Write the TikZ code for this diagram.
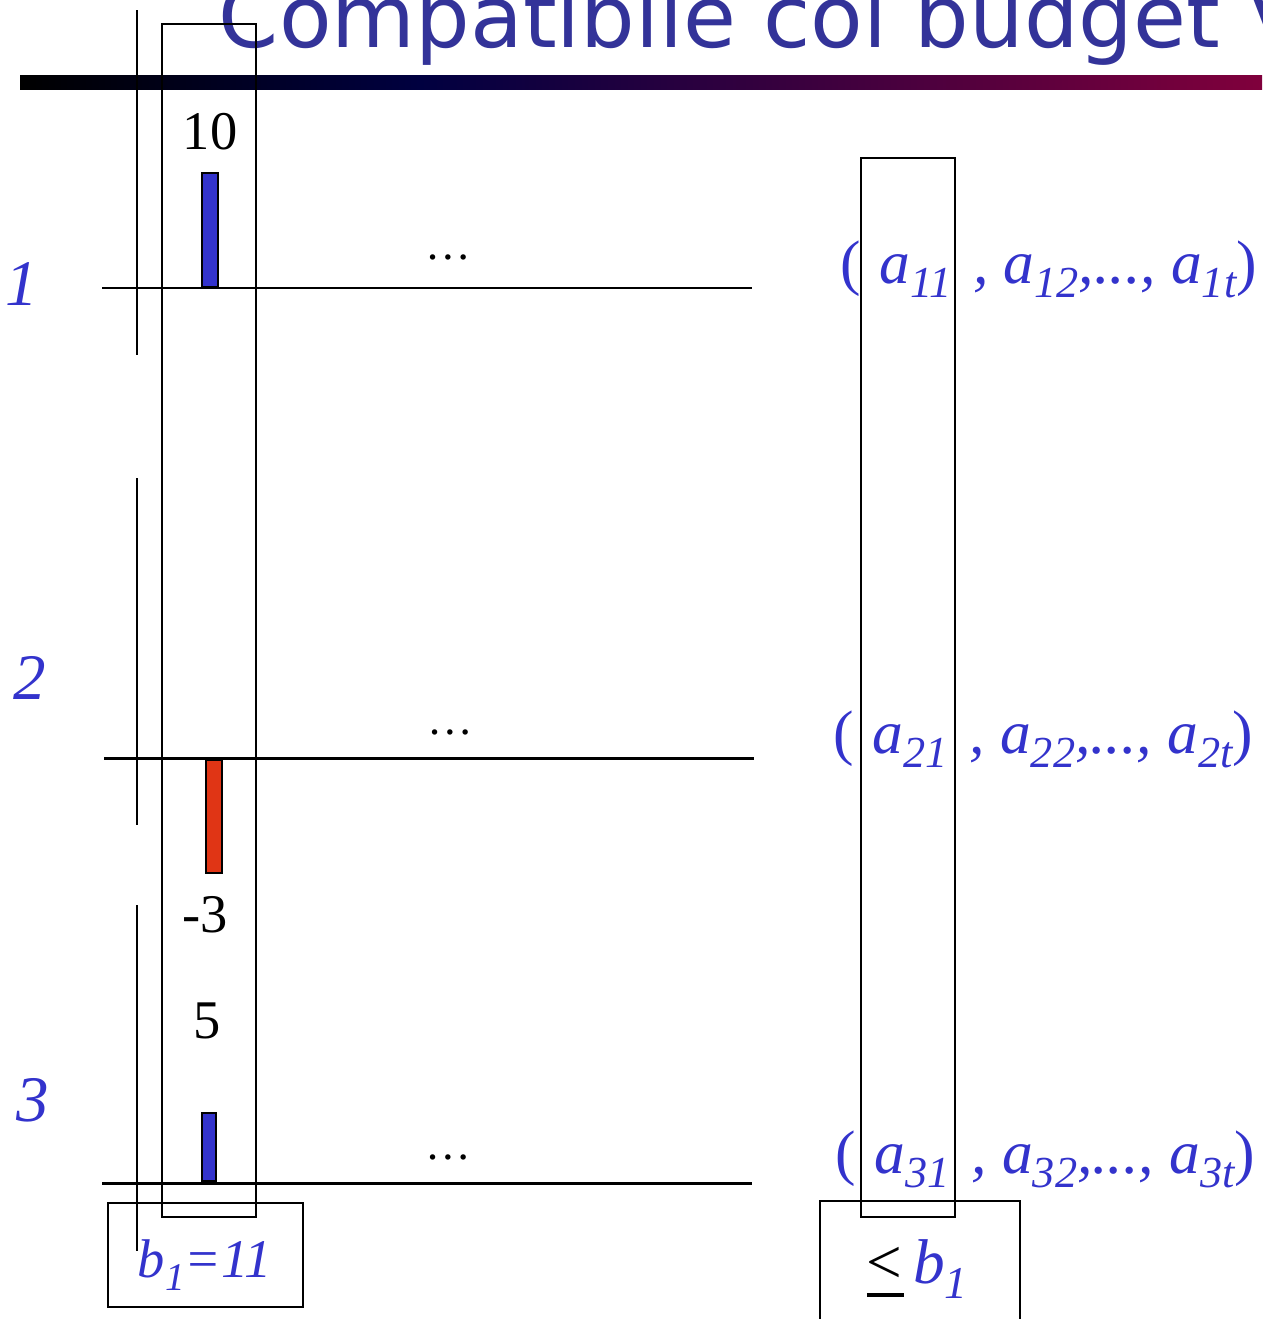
\documentclass[tikz,border=0pt]{standalone}
\usepackage{fontspec}
\setmainfont{Liberation Serif}
\newfontfamily\titlefont{DejaVu Sans}
\definecolor{txtblue}{HTML}{3333CC}
\definecolor{titleblue}{HTML}{333399}
\definecolor{barred}{HTML}{E03515}
\definecolor{navy}{HTML}{000040}
\definecolor{crimson}{HTML}{80003C}
\newcommand{\sbs}[1]{\raisebox{-0.24em}{\scalebox{0.72}{#1}}}
\newcommand{\fs}[1]{\fontsize{#1}{#1}\selectfont}
\newcommand{\tpl}[1]{\upshape(\hspace{0.3em}\itshape a\sbs{#11}\hspace{0.35em}, a\sbs{#12},..., a\sbs{#1t}\upshape)}
\begin{document}
\begin{tikzpicture}[x=0.02cm, y=-0.02cm, line width=1.1pt,
  numlbl/.style={anchor=base, inner sep=0, font=\fs{31pt}},
  rowlbl/.style={anchor=base, inner sep=0, text=txtblue, font=\fs{37pt}\itshape},
  tuple/.style={anchor=base west, inner sep=0, text=txtblue, font=\fs{35pt}},
  dots/.style={anchor=base, inner sep=0, font=\fs{26pt}},
  axis/.style={line width=1.7pt},
  bar/.style={draw=black, line width=1.1pt}]
\clip (0,0) rectangle (1262,1319);
% title and rule
\node[anchor=base west, inner sep=0, text=titleblue, font=\titlefont\fs{49pt}] (title) at (218,47) {Compatibile col budget V};
\shade[left color=black, right color=navy] (20,75) rectangle (420,89);
\shade[left color=navy, right color=crimson] (420,75) rectangle (1262,89);
% left axis pieces
\draw[axis] (137,10) -- (137,355);
\draw[axis] (137,478) -- (137,825);
\draw[axis] (137,905) -- (137,1251);
% row lines
\draw[axis] (102,288) -- (752,288);
\draw[axis] (104,758) -- (754,758);
\draw[axis] (102,1183) -- (752,1183);
% bars
\draw[bar, fill=txtblue] (202,173) rectangle (218,287);
\draw[bar, fill=barred] (206,760) rectangle (222,873);
\draw[bar, fill=txtblue] (202,1113) rectangle (216,1181);
% columns
\draw (162,24) rectangle (256,1217);
\draw (861,158) rectangle (955,1217);
\draw (108,1203) rectangle (303,1307);
\draw (820,1201) rectangle (1020,1340);
% values
\node[numlbl] (v1) at (210,149) {10};
\node[numlbl] (v2) at (205,932) {-3};
\node[numlbl] (v3) at (207,1038) {5};
% row numbers
\node[rowlbl] (r1) at (22,305) {1};
\node[rowlbl] (r2) at (30,699) {2};
\node[rowlbl] (r3) at (33,1121) {3};
% dots
\node[dots] (d1) at (448,259) {\ldots};
\node[dots] (d2) at (450,734) {\ldots};
\node[dots] (d3) at (448,1159) {\ldots};
% tuples
\node[tuple] (t1) at (840,283) {\tpl{1}};
\node[tuple] (t2) at (833,753) {\tpl{2}};
\node[tuple] (t3) at (835,1173) {\tpl{3}};
% budgets
\node[anchor=base, inner sep=0, text=txtblue, font=\fs{31pt}\itshape] (b1) at (205,1277) {b\sbs{1}=11};
\node[anchor=base west, inner sep=0, font=\fs{36pt}] (le) at (866,1283) {\makebox[0pt][l]{\rule[-0.22em]{0.58em}{0.07em}}<\,\textcolor{txtblue}{\itshape b\sbs{1}}};
\end{tikzpicture}
\end{document}
